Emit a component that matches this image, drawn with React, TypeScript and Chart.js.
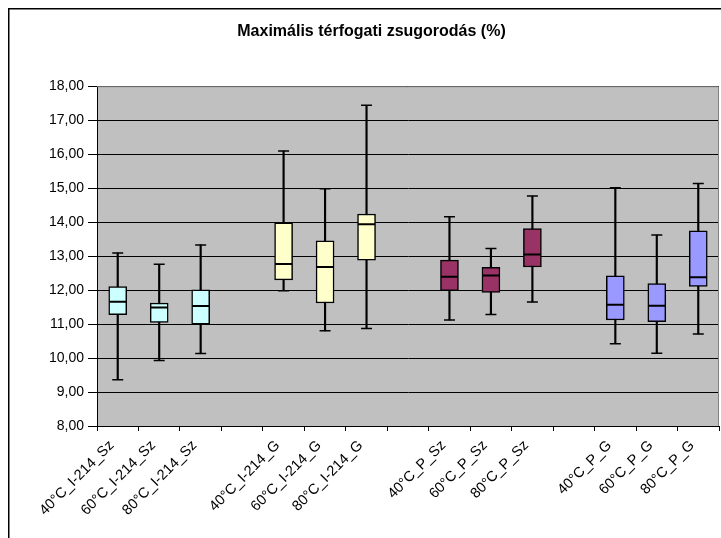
import React, { useEffect, useRef } from "react";
import { Chart, registerables } from "chart.js";

Chart.register(...registerables);

const categories = [
  "40°C_I-214_Sz", "60°C_I-214_Sz", "80°C_I-214_Sz", "",
  "40°C_I-214_G", "60°C_I-214_G", "80°C_I-214_G", "",
  "40°C_P_Sz", "60°C_P_Sz", "80°C_P_Sz", "",
  "40°C_P_G", "60°C_P_G", "80°C_P_G",
];
const mins = [9.36, 9.93, 10.13, null, 11.98, 10.8, 10.87, null, 11.12, 11.28, 11.65, null, 10.42, 10.14, 10.71];
const q1s = [11.28, 11.05, 11.0, null, 12.3, 11.62, 12.88, null, 11.98, 11.93, 12.68, null, 11.12, 11.07, 12.11];
const medians = [11.66, 11.49, 11.53, null, 12.77, 12.68, 13.94, null, 12.39, 12.43, 13.05, null, 11.57, 11.54, 12.38];
const q3s = [12.1, 11.62, 12.01, null, 13.98, 13.45, 14.24, null, 12.88, 12.67, 13.81, null, 12.42, 12.19, 13.74];
const maxs = [13.09, 12.76, 13.33, null, 16.09, 14.98, 17.44, null, 14.16, 13.22, 14.77, null, 15.01, 13.62, 15.14];
const boxColors = [
  "#CCFFFF", "#CCFFFF", "#CCFFFF", "#FFFFFF",
  "#FFFFCC", "#FFFFCC", "#FFFFCC", "#FFFFFF",
  "#993366", "#993366", "#993366", "#FFFFFF",
  "#9999FF", "#9999FF", "#9999FF",
];
const titleText = "Maximális térfogati zsugorodás (%)";
const yMin = 8;
const yMax = 18;

const W = 728;
const H = 560;

const framePlugin = {
  id: "frame",
  beforeDraw(chart: any) {
    const { ctx, chartArea } = chart;
    ctx.save();
    ctx.fillStyle = "#FFFFFF";
    ctx.fillRect(0, 0, chart.width, chart.height);
    ctx.fillStyle = "#C0C0C0";
    ctx.fillRect(chartArea.left, chartArea.top, chartArea.right - chartArea.left, chartArea.bottom - chartArea.top);
    ctx.strokeStyle = "#000000";
    ctx.lineWidth = 1.5;
    ctx.strokeRect(0.75, 0.75, chart.width - 1.5, chart.height - 1.5);
    ctx.restore();
  },
  beforeDatasetsDraw(chart: any) {
    const { ctx, chartArea } = chart;
    ctx.save();
    ctx.strokeStyle = "#808080";
    ctx.lineWidth = 1;
    ctx.beginPath();
    ctx.moveTo(chartArea.left, chartArea.top + 0.5);
    ctx.lineTo(chartArea.right - 0.5, chartArea.top + 0.5);
    ctx.lineTo(chartArea.right - 0.5, chartArea.bottom);
    ctx.stroke();
    ctx.restore();
  },
};

export default function App() {
  const ref = useRef<HTMLCanvasElement>(null);
  useEffect(() => {
    if (!ref.current) return;
    document.body.style.overflow = "hidden";
    document.documentElement.style.overflow = "hidden";
    document.body.style.margin = "8px 0 0 8px";
    const font = "'Liberation Sans', Arial, sans-serif";
    const whiskers = mins.map((m, i) => (m === null ? null : [m, maxs[i] as number]));
    const boxes = q1s.map((q, i) => (q === null ? null : [q, q3s[i] as number]));
    const chart = new Chart(ref.current, {
      type: "bar",
      data: {
        labels: categories,
        datasets: [
          {
            type: "bar",
            data: whiskers as any,
            backgroundColor: "#000000",
            borderWidth: 0,
            barThickness: 1.5,
            grouped: false,
            order: 3,
          } as any,
          {
            type: "bar",
            data: boxes as any,
            backgroundColor: boxColors,
            borderColor: "#000000",
            borderWidth: 1.5,
            borderSkipped: false,
            barThickness: 18,
            grouped: false,
            order: 2,
          } as any,
          {
            type: "line",
            data: mins as any,
            showLine: false,
            pointStyle: "line",
            pointRadius: 5.5,
            pointBorderWidth: 1.5,
            pointBorderColor: "#000000",
            borderColor: "#000000",
            order: 1,
          } as any,
          {
            type: "line",
            data: maxs as any,
            showLine: false,
            pointStyle: "line",
            pointRadius: 5.5,
            pointBorderWidth: 1.5,
            pointBorderColor: "#000000",
            borderColor: "#000000",
            order: 1,
          } as any,
          {
            type: "line",
            data: medians as any,
            showLine: false,
            pointStyle: "line",
            pointRadius: 8.5,
            pointBorderWidth: 2,
            pointBorderColor: "#000000",
            borderColor: "#000000",
            order: 0,
          } as any,
        ],
      },
      options: {
        responsive: false,
        maintainAspectRatio: false,
        animation: false,
        devicePixelRatio: 1,
        layout: { padding: { top: 0, left: 0, right: 1, bottom: 0 } },
        plugins: {
          legend: { display: false },
          tooltip: { enabled: false },
          title: {
            display: true,
            text: titleText,
            color: "#000000",
            font: { family: font, size: 16, weight: "bold" },
            padding: { top: 14, bottom: 45 },
          },
        },
        scales: {
          x: {
            offset: true,
            grid: {
              display: true,
              offset: true,
              drawOnChartArea: false,
              drawTicks: true,
              tickLength: 5,
              color: "#000000",
            },
            border: { display: true, color: "#000000", width: 1 },
            ticks: {
              color: "#000000",
              font: { family: font, size: 14.5 },
              minRotation: 45,
              maxRotation: 45,
              autoSkip: false,
              padding: 6,
              labelOffset: -6,
            },
            afterFit: (s: any) => {
              s.height = 142;
            },
          },
          y: {
            min: yMin,
            max: yMax,
            grid: {
              color: "#000000",
              lineWidth: 1,
              drawTicks: true,
              tickLength: 9,
            },
            border: { display: true, color: "#000000", width: 1 },
            ticks: {
              stepSize: 1,
              color: "#000000",
              font: { family: font, size: 14 },
              padding: 4,
              callback: (v: any) => Number(v).toFixed(2).replace(".", ","),
            },
            afterFit: (s: any) => {
              s.width = 89;
            },
          },
          yRight: {
            position: "right",
            min: yMin,
            max: yMax,
            grid: { display: false, drawTicks: false },
            border: { display: false },
            ticks: { display: false },
            afterFit: (s: any) => {
              s.width = 16;
            },
          },
        },
      },
      plugins: [framePlugin],
    });
    return () => {
      chart.destroy();
    };
  }, []);
  return (
    <div style={{ position: "relative", width: W + "px", height: H + "px" }}>
      <canvas
        ref={ref}
        width={W}
        height={H}
        style={{ display: "block", width: W + "px", height: H + "px" }}
      />
    </div>
  );
}
